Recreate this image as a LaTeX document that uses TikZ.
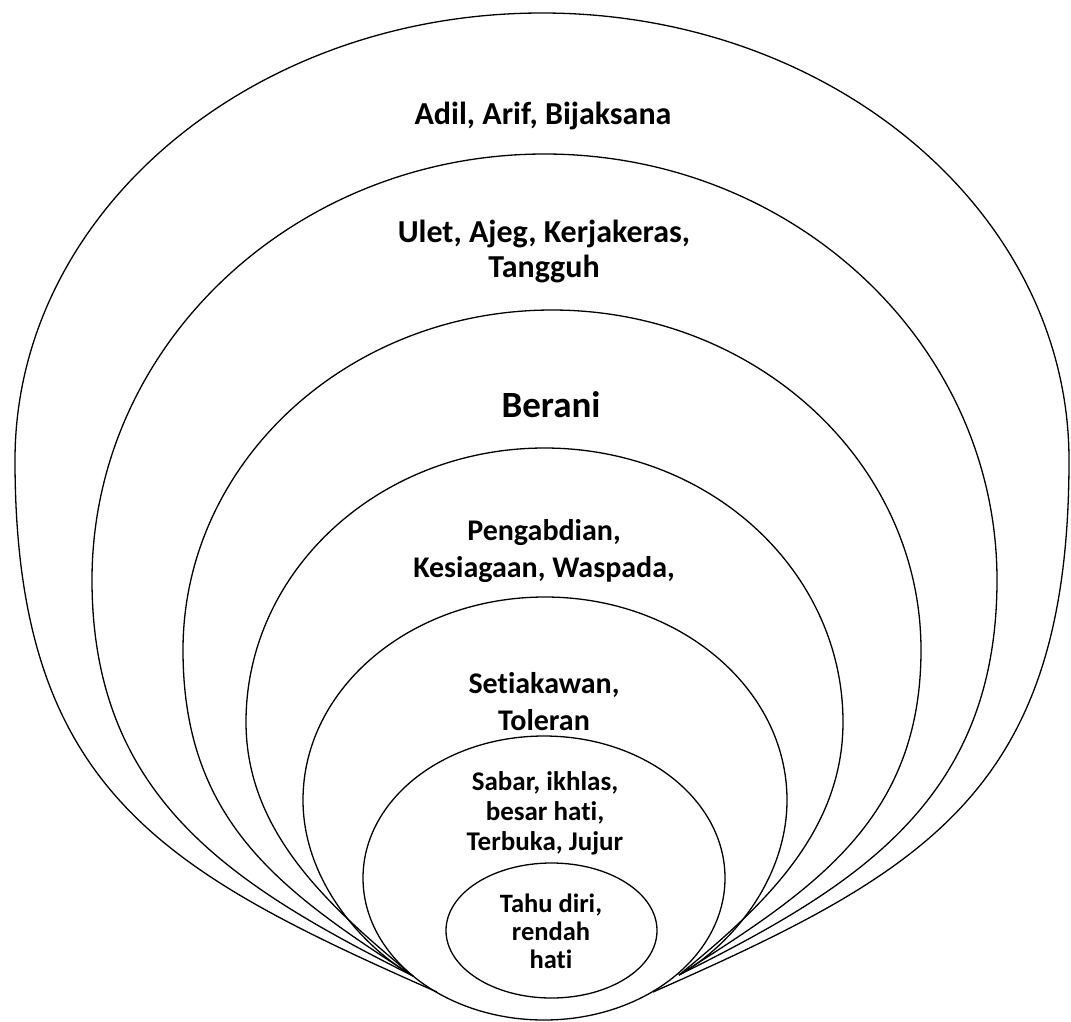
\documentclass[tikz,border=0pt]{standalone}
\usepackage{fontspec}
\setmainfont{Carlito}[Ligatures={NoCommon}]
\begin{document}
\begin{tikzpicture}[x=1pt,y=-1pt,
  ring/.style={draw=black,line width=1.3pt},
  lbl/.style={inner sep=0pt,align=center,anchor=base,text=black}]
\useasboundingbox[fill=white] (0,0) rectangle (1071,1021);
% ring 1 (outermost)
\draw[ring] (437,992) .. controls (162.8,871) and (15,790) .. (15,460)
  .. controls (15,213.1) and (250.9,13) .. (542,13)
  .. controls (833.1,13) and (1069,213.1) .. (1069,460)
  .. controls (1069,790) and (927.2,871) .. (653,992);
% ring 2
\draw[ring] (413,976) .. controls (234.8,886.2) and (92,800) .. (92,580)
  .. controls (92,344.7) and (294.6,154) .. (544.5,154)
  .. controls (794.4,154) and (997,344.7) .. (997,580)
  .. controls (997,800) and (857.2,886.2) .. (679,975);
% ring 3
\draw[ring] (413,976) .. controls (278.8,889.9) and (183,820) .. (183,650)
  .. controls (183,462.2) and (348.2,310) .. (552,310)
  .. controls (755.8,310) and (921,462.2) .. (921,650)
  .. controls (921,820) and (813.2,889.9) .. (679,975);
% ring 4
\draw[ring] (413,976) .. controls (328.7,906.3) and (246,832) .. (246,722)
  .. controls (246,570.7) and (379.6,448) .. (544.5,448)
  .. controls (709.4,448) and (843,570.7) .. (843,722)
  .. controls (843,832) and (763.3,906.3) .. (679,975);
% ring 5
\draw[ring] (413,976) .. controls (361.6,946.1) and (303,880) .. (303,800)
  .. controls (303,687.9) and (411.3,597) .. (545,597)
  .. controls (678.7,597) and (787,687.9) .. (787,800)
  .. controls (787,880) and (730.4,946.1) .. (679,975);
% inner ellipses
\draw[ring] (544,878) ellipse [x radius=181, y radius=142];
\draw[ring] (551.5,930.5) ellipse [x radius=105.5, y radius=67.5];
% labels (anchor base = baseline of last line)
\node[lbl,font=\fontsize{32}{35}\selectfont\bfseries] (adil) at (543,124) {Adil, Arif, Bijaksana};
\node[lbl,font=\fontsize{32}{35}\selectfont\bfseries] (ulet) at (544,277) {Ulet, Ajeg, Kerjakeras,\\Tangguh};
\node[lbl,font=\fontsize{37}{40}\selectfont\bfseries] (berani) at (551,417) {Berani};
\node[lbl,font=\fontsize{30}{37}\selectfont\bfseries] (pengabdian) at (544,577) {Pengabdian,\\Kesiagaan, Waspada,};
\node[lbl,font=\fontsize{30}{37}\selectfont\bfseries] (setia) at (544,730) {Setiakawan,\\Toleran};
\node[lbl,font=\fontsize{27}{30}\selectfont\bfseries] (sabar) at (545,850) {Sabar, ikhlas,\\besar hati,\\Terbuka, Jujur};
\node[lbl,font=\fontsize{26.5}{28}\selectfont\bfseries] (tahu) at (551,968) {Tahu diri,\\rendah\\hati};
\end{tikzpicture}
\end{document}
